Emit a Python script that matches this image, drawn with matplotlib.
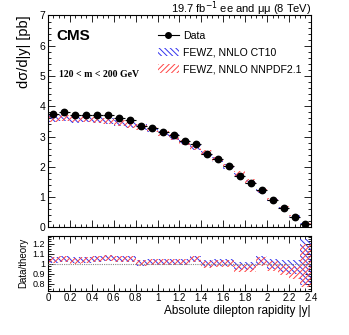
import numpy as np
import matplotlib
matplotlib.use("Agg")
import matplotlib.pyplot as plt
from matplotlib.patches import Patch
from matplotlib.lines import Line2D
from matplotlib.ticker import MultipleLocator, FixedLocator

plt.rcParams['font.family'] = ['Liberation Sans', 'DejaVu Sans']
plt.rcParams['hatch.linewidth'] = 0.7

# ---------------- data ----------------
bin_edges = [0.0, 0.1, 0.2, 0.3, 0.4, 0.5, 0.6, 0.7, 0.8, 0.9, 1.0, 1.1, 1.2,
             1.3, 1.4, 1.5, 1.6, 1.7, 1.8, 1.9, 2.0, 2.1, 2.2, 2.3, 2.4]
data_xsec = [3.75, 3.80, 3.70, 3.72, 3.72, 3.73, 3.61, 3.54, 3.34, 3.30, 3.16, 3.04,
             2.87, 2.77, 2.44, 2.26, 2.03, 1.71, 1.47, 1.24, 0.91, 0.64, 0.36, 0.13]
data_err = [0.03, 0.03, 0.03, 0.03, 0.03, 0.03, 0.03, 0.03, 0.03, 0.03, 0.03, 0.03,
            0.03, 0.03, 0.02, 0.02, 0.02, 0.02, 0.02, 0.02, 0.02, 0.02, 0.02, 0.02]
ratio_ct10 = [1.04, 1.05, 1.04, 1.04, 1.05, 1.06, 1.05, 1.05, 1.01, 1.02, 1.02, 1.02,
              1.02, 1.05, 1.00, 1.01, 1.01, 0.98, 0.98, 1.03, 1.00, 0.98, 0.97, 1.02]
ratio_nnpdf = [1.04, 1.05, 1.03, 1.04, 1.05, 1.06, 1.05, 1.05, 1.01, 1.02, 1.02, 1.02,
               1.02, 1.05, 0.99, 1.00, 1.00, 0.96, 0.96, 1.02, 0.98, 0.94, 0.91, 0.98]
relerr_ct10 = [0.03, 0.03, 0.03, 0.03, 0.03, 0.03, 0.03, 0.03, 0.03, 0.03, 0.03, 0.03,
               0.03, 0.03, 0.035, 0.035, 0.035, 0.04, 0.04, 0.045, 0.05, 0.06, 0.07, 0.23]
relerr_nnpdf = [0.03, 0.03, 0.03, 0.03, 0.03, 0.03, 0.03, 0.03, 0.03, 0.03, 0.03, 0.03,
                0.03, 0.03, 0.035, 0.035, 0.035, 0.04, 0.04, 0.045, 0.05, 0.06, 0.07, 0.22]
x_ticks = [0, 0.2, 0.4, 0.6, 0.8, 1, 1.2, 1.4, 1.6, 1.8, 2, 2.2, 2.4]
x_ticklabels = ['0', '0.2', '0.4', '0.6', '0.8', '1', '1.2', '1.4', '1.6', '1.8', '2', '2.2', '2.4']
ratio_ticks = [0.8, 0.9, 1.0, 1.1, 1.2]
ratio_ticklabels = ['0.8', '0.9', '1', '1.1', '1.2']

edges = np.array(bin_edges)
centers = 0.5 * (edges[:-1] + edges[1:])
widths = np.diff(edges)
data = np.array(data_xsec)
derr = np.array(data_err)
r_ct = np.array(ratio_ct10)
r_nn = np.array(ratio_nnpdf)
e_ct = np.array(relerr_ct10)
e_nn = np.array(relerr_nnpdf)
th_ct = data / r_ct
th_nn = data / r_nn

fig = plt.figure(figsize=(3.49, 3.35), dpi=100)
ax = fig.add_axes([0.1375, 0.321, 0.7535, 0.6328])
axr = fig.add_axes([0.1375, 0.1322, 0.7535, 0.1633])

blue = '#3333ee'
red = '#ff4444'

def bands(a, center, relerr, color, hatch):
    a.bar(centers, 2 * center * relerr, bottom=center * (1 - relerr), width=widths,
          align='center', facecolor='none', edgecolor=color, hatch=hatch,
          linewidth=0, zorder=2)

bands(ax, th_ct, e_ct, blue, '\\\\\\\\\\\\')
bands(ax, th_nn, e_nn, red, '//////')
ax.errorbar(centers, data, yerr=derr, xerr=widths / 2, fmt='o', color='black',
            markersize=4.6, elinewidth=0.8, capsize=0, zorder=5)

bands(axr, r_ct, e_ct, blue, '\\\\\\\\\\\\')
bands(axr, r_nn, e_nn, red, '//////')
axr.axhline(1.0, color='#888888', linestyle=(0, (1, 1)), linewidth=0.8, zorder=3)

for a in (ax, axr):
    a.set_xlim(0, 2.4)
    a.xaxis.set_major_locator(FixedLocator(x_ticks))
    a.xaxis.set_minor_locator(MultipleLocator(0.05))
    a.tick_params(which='both', direction='in', top=True, right=True,
                  labelsize=7, width=0.6, pad=2)
    a.tick_params(which='major', length=5)
    a.tick_params(which='minor', length=2.5)
    for s in a.spines.values():
        s.set_linewidth(0.8)

ax.set_ylim(0, 7)
ax.yaxis.set_major_locator(MultipleLocator(1))
ax.yaxis.set_minor_locator(MultipleLocator(0.2))
ax.set_xticklabels([])
ax.tick_params(labelsize=7.5)

axr.set_ylim(0.73, 1.28)
axr.yaxis.set_major_locator(FixedLocator(ratio_ticks))
axr.set_yticklabels(ratio_ticklabels)
axr.yaxis.set_minor_locator(MultipleLocator(0.025))
axr.set_xticklabels(x_ticklabels)
axr.tick_params(which='major', axis='y', length=4)
axr.tick_params(which='minor', axis='y', length=2)
axr.tick_params(axis='y', labelsize=6.5)

ax.set_ylabel('dσ/d|y| [pb]', fontsize=10.5, loc='top', labelpad=6)
axr.set_ylabel('Data/theory', fontsize=7, labelpad=3)
axr.set_xlabel('Absolute dilepton rapidity |y|', fontsize=8.5, loc='right', labelpad=1)

ax.text(0.03, 0.905, 'CMS', transform=ax.transAxes, fontsize=11, fontweight='bold',
        va='center', ha='left')
ax.text(0.04, 0.72, '120 < m < 200 GeV', transform=ax.transAxes, fontsize=7,
        fontweight='bold', family=['Liberation Serif', 'DejaVu Serif'],
        va='center', ha='left')
ax.text(1.0, 1.014, '19.7 fb$^{-1}$ ee and μμ (8 TeV)', transform=ax.transAxes,
        fontsize=8, ha='right', va='baseline')

handles = [
    Line2D([0], [0], color='black', marker='o', markersize=4, linewidth=0.8),
    Patch(facecolor='none', edgecolor=blue, hatch='\\\\\\\\\\\\', linewidth=0),
    Patch(facecolor='none', edgecolor=red, hatch='//////', linewidth=0),
]
labels = ['Data', 'FEWZ, NNLO CT10', 'FEWZ, NNLO NNPDF2.1']
ax.legend(handles, labels, loc='upper left', bbox_to_anchor=(0.39, 0.96),
          frameon=False, fontsize=7.6, handlelength=2.0, handleheight=0.85,
          labelspacing=0.6, handletextpad=0.4, borderpad=0.2)

fig.savefig('out.png', dpi=100)
